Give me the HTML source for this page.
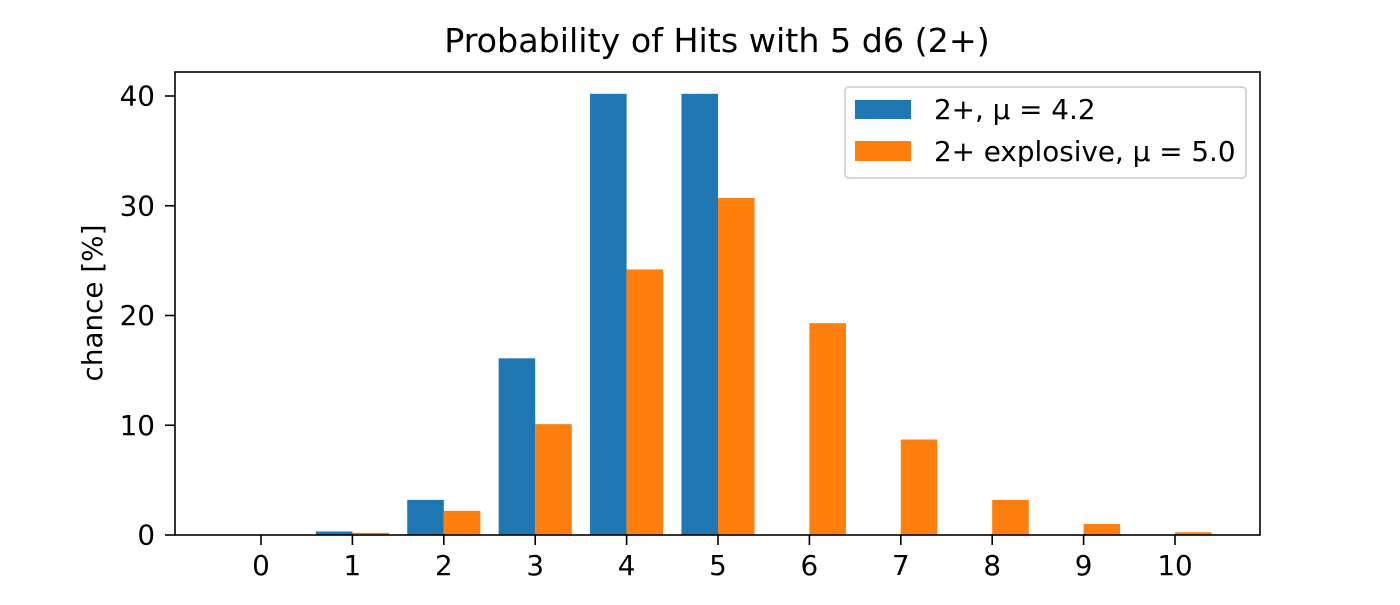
<!DOCTYPE html>
<html><head><meta charset="utf-8"><style>
body{margin:0;background:#fff;}
svg text{font-family:"DejaVu Sans","Liberation Sans",sans-serif;fill:#000;}
</style></head><body>
<svg id="chart" width="1400" height="600" xmlns="http://www.w3.org/2000/svg">
<rect width="1400" height="600" fill="#fff"/>
<text x="717" y="52" font-size="33.3" text-anchor="middle">Probability of Hits with 5 d6 (2+)</text>
<text transform="translate(102,303) rotate(-90)" font-size="27.8" text-anchor="middle">chance [%]</text>
<g id="bars"></g>
<g id="ticks"></g>
<rect x="175" y="72" width="1085" height="463" fill="none" stroke="#000" stroke-width="1.6"/>
<g>
<rect x="845" y="87" width="401" height="91" rx="4" fill="#fff" fill-opacity="0.8" stroke="#d6d6d6" stroke-width="2"/>
<rect x="855" y="100" width="56" height="19" fill="#1f77b4"/>
<text x="934" y="119" font-size="27.8">2+, μ = 4.2</text>
<rect x="855" y="141" width="56" height="20" fill="#ff7f0e"/>
<text x="934" y="161" font-size="27.8">2+ explosive, μ = 5.0</text>
</g>
</svg>
<script>
const categories=[0,1,2,3,4,5,6,7,8,9,10];
const standardValues=[0.013,0.32,3.2,16.1,40.2,40.2,0,0,0,0,0];
const explosiveValues=[0.01,0.2,2.2,10.1,24.2,30.7,19.3,8.7,3.2,1.0,0.25];
const yTicks=[0,10,20,30,40];
const NS="http://www.w3.org/2000/svg";
function xScale(v){return 261+v*91.4;}
function yScale(v){return 535-v*10.975;}
const bars=document.getElementById('bars');
const ticks=document.getElementById('ticks');
const bw=0.4*91.4;
function mk(tag,attrs){const e=document.createElementNS(NS,tag);for(const k in attrs)e.setAttribute(k,attrs[k]);return e;}
categories.forEach((c,i)=>{
  const b1=mk('rect',{x:xScale(c)-bw,y:yScale(standardValues[i]),width:bw,height:yScale(0)-yScale(standardValues[i]),fill:'#1f77b4'});
  
  
  bars.appendChild(b1);
  const b2=mk('rect',{x:xScale(c),y:yScale(explosiveValues[i]),width:bw,height:yScale(0)-yScale(explosiveValues[i]),fill:'#ff7f0e'});
  
  
  bars.appendChild(b2);
  const t=mk('line',{x1:xScale(c),x2:xScale(c),y1:535,y2:545,stroke:'#000','stroke-width':1.6});
  
  
  ticks.appendChild(t);
  const l=mk('text',{x:xScale(c),y:575,'font-size':27.8,'text-anchor':'middle'});
  l.textContent=c;
  
  
  ticks.appendChild(l);
});
yTicks.forEach(v=>{
  const t=mk('line',{x1:165,x2:175,y1:yScale(v),y2:yScale(v),stroke:'#000','stroke-width':1.6});
  
  
  ticks.appendChild(t);
  const l=mk('text',{x:155,y:yScale(v)+9.5,'font-size':27.8,'text-anchor':'end'});
  l.textContent=v;
  
  
  ticks.appendChild(l);
});
</script>
</body></html>
